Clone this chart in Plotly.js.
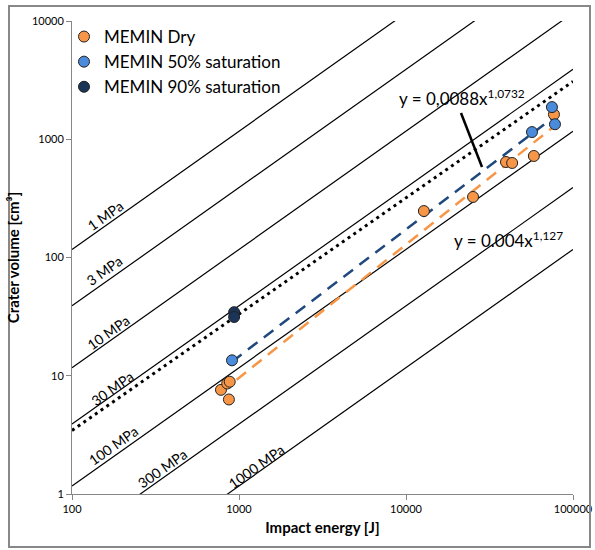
<!DOCTYPE html>
<html>
<head>
<meta charset="utf-8">
<script src="https://cdn.plot.ly/plotly-3.0.1.min.js"></script>
<style>html,body{margin:0;padding:0;background:#fff;}#chart{width:595px;height:550px;}</style>
</head>
<body>
<div id="chart"></div>
<script>
// ---- data ----
const dryEnergy = [780, 850, 880, 870, 12800, 25200, 39700, 43200, 58300, 76900];
const dryVolume = [7.6, 8.6, 8.9, 6.3, 247, 325, 642, 630, 722, 1620];
const sat50Energy = [908, 56800, 74800, 78000];
const sat50Volume = [13.5, 1150, 1870, 1340];
const sat90Energy = [935, 935];
const sat90Volume = [34.5, 31.4];
const seriesNames = ["MEMIN Dry", "MEMIN 50% saturation", "MEMIN 90% saturation"];
// strength reference lines
const strengths = [1, 3, 10, 30, 100, 300, 1000];
const strengthLabels = ["1 MPa", "3 MPa", "10 MPa", "30 MPa", "100 MPa", "300 MPa", "1000 MPa"];
const strengthFactor = 1.17;
const lineEnergy = [100, 100000];
// dotted line endpoints
const dottedEnergy = [100, 100000];
const dottedVolume = [3.45, 3080];
// trendline equations
const dryFit = {a: 0.004, b: 1.127, label: "y = 0.004x<sup>1,127</sup>"};
const wetFit = {a: 0.0088, b: 1.0732, label: "y = 0,0088x<sup>1,0732</sup>"};
const xTicks = [100, 1000, 10000, 100000];
const yTicks = [1, 10, 100, 1000, 10000];

// ---- layout geometry ----
const L = 72, R = 573, T = 21, B = 494;
const px2paperX = p => (p - L) / (R - L);
const px2paperY = p => (B - p) / (B - T);
const FONT = "Lato, 'Open Sans', sans-serif";

const traces = [];
strengths.forEach((s) => {
  traces.push({
    x: lineEnergy, y: lineEnergy.map(e => strengthFactor * e / s),
    mode: "lines", line: {color: "#000", width: 1.2}, showlegend: false, hoverinfo: "skip"
  });
});
traces.push({
  x: dottedEnergy, y: dottedVolume, mode: "lines",
  line: {color: "#000", width: 3, dash: "3px,4px"}, showlegend: false, hoverinfo: "skip"
});
const fitLine = (fit, xs) => {
  const lo = Math.min(...xs), hi = Math.max(...xs);
  return {x: [lo, hi], y: [fit.a * Math.pow(lo, fit.b), fit.a * Math.pow(hi, fit.b)]};
};
const dryF = fitLine(dryFit, dryEnergy);
const wetF = fitLine(wetFit, sat50Energy.concat(sat90Energy));
traces.push({x: wetF.x, y: wetF.y, mode: "lines", line: {color: "#1F497D", width: 2.5, dash: "12px,8px"}, showlegend: false, hoverinfo: "skip"});
traces.push({x: dryF.x, y: dryF.y, mode: "lines", line: {color: "#F79646", width: 2.5, dash: "12px,8px"}, showlegend: false, hoverinfo: "skip"});

const mk = (c) => ({color: c, size: 11, line: {color: "#222", width: 1}});
traces.push({x: dryEnergy, y: dryVolume, mode: "markers", name: seriesNames[0], marker: mk("#F79646")});
traces.push({x: sat50Energy, y: sat50Volume, mode: "markers", name: seriesNames[1], marker: mk("#4A8BDB")});
traces.push({x: sat90Energy, y: sat90Volume, mode: "markers", name: seriesNames[2], marker: mk("#1B3558")});

// label positions (pixels) for strength lines
const labelPos = [[105, 215], [104, 270], [108, 332], [112, 388], [113, 445], [162, 468], [256, 466]];
const annotations = strengthLabels.map((t, i) => ({
  text: t, xref: "paper", yref: "paper",
  x: px2paperX(labelPos[i][0]), y: px2paperY(labelPos[i][1]),
  showarrow: false, textangle: -35.3, font: {family: FONT, size: 14, color: "#000"},
  xanchor: "center", yanchor: "middle"
}));
annotations.push({text: wetFit.label, xref: "paper", yref: "paper", x: px2paperX(462), y: px2paperY(98),
  showarrow: false, font: {family: FONT, size: 17, color: "#000"}, xanchor: "center", yanchor: "middle"});
annotations.push({text: dryFit.label, xref: "paper", yref: "paper", x: px2paperX(508), y: px2paperY(239),
  showarrow: false, font: {family: FONT, size: 17, color: "#000"}, xanchor: "center", yanchor: "middle"});

const layout = {
  width: 595, height: 550,
  margin: {l: L, r: 595 - R, t: T, b: 550 - B},
  paper_bgcolor: "#fff", plot_bgcolor: "#fff",
  font: {family: FONT, color: "#000"},
  showlegend: true,
  legend: {x: px2paperX(64), y: px2paperY(19), xanchor: "left", yanchor: "top",
    font: {family: FONT, size: 17, color: "#000"}, bgcolor: "rgba(0,0,0,0)", itemwidth: 30, tracegroupgap: 0},
  xaxis: {type: "log", range: [2, 5], tickvals: xTicks, ticktext: xTicks.map(String),
    showgrid: false, zeroline: false, showline: true, linecolor: "#868686", linewidth: 1,
    ticks: "outside", ticklen: 5, tickcolor: "#868686", tickfont: {family: FONT, size: 11, color: "#000"},
    title: {text: "<b>Impact energy [J]</b>", font: {family: FONT, size: 15, color: "#000"}, standoff: 8}},
  yaxis: {type: "log", range: [0, 4], tickvals: yTicks, ticktext: yTicks.map(String),
    showgrid: false, zeroline: false, showline: true, linecolor: "#868686", linewidth: 1,
    ticks: "outside", ticklen: 5, tickcolor: "#868686", tickfont: {family: FONT, size: 11, color: "#000"},
    title: {text: "<b>Crater volume [cm³]</b>", font: {family: FONT, size: 15, color: "#000"}, standoff: 8}},
  annotations: annotations,
  shapes: [
    {type: "line", xref: "paper", yref: "paper", x0: px2paperX(461), y0: px2paperY(113), x1: px2paperX(482), y1: px2paperY(167),
      line: {color: "#000", width: 2.5}},
    {type: "rect", xref: "paper", yref: "paper", x0: px2paperX(9), y0: px2paperY(547), x1: px2paperX(590), y1: px2paperY(6),
      line: {color: "#888", width: 2}}
  ]
};
Plotly.newPlot("chart", traces, layout, {displayModeBar: false, staticPlot: true});
</script>
</body>
</html>
